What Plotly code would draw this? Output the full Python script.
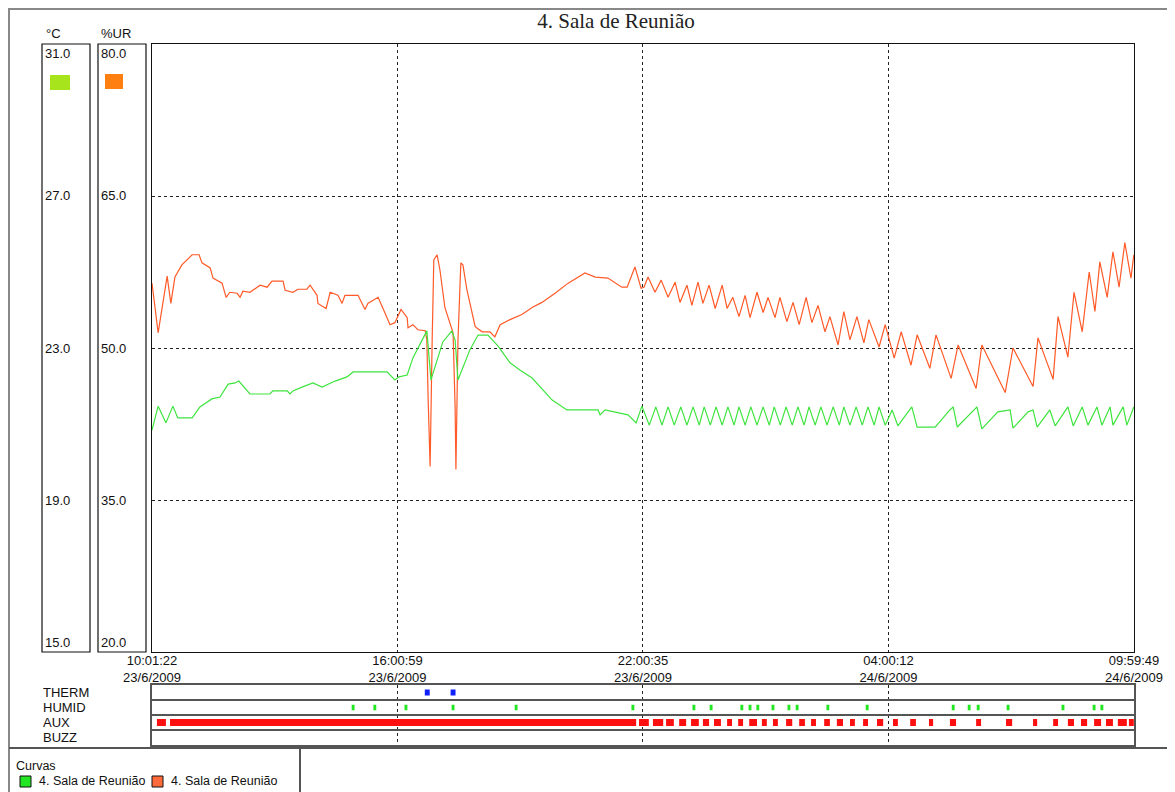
import plotly.graph_objects as go

W, H = 1175, 792
PAGE_OFFSET = 8  # the page body margin moves the figure by 8 px

# time axis in hours elapsed since 23/6/2009 10:01:22
tick_hours = [0.0, 5.9935, 11.9869, 17.9804, 23.9742]
tick_labels = ["10:01:22<br>23/6/2009", "16:00:59<br>23/6/2009", "22:00:35<br>23/6/2009",
               "04:00:12<br>24/6/2009", "09:59:49<br>24/6/2009"]
temp_ticks = [31.0, 27.0, 23.0, 19.0, 15.0]
hum_ticks = [80.0, 65.0, 50.0, 35.0, 20.0]

# humidity (%UR)
hum_t = [0.0, 0.15, 0.37, 0.46, 0.56, 0.73, 0.98, 1.15, 1.22, 1.42, 1.49, 1.71, 1.81, 1.90, 2.08,
         2.15, 2.22, 2.39, 2.64, 2.81, 2.93, 3.20, 3.25, 3.44, 3.56, 3.78, 3.86, 4.03, 4.05, 4.25,
         4.35, 4.54, 4.64, 4.71, 5.03, 5.20, 5.27, 5.52, 5.64, 5.81, 5.93, 6.08, 6.23, 6.25, 6.37,
         6.49, 6.67, 6.71, 6.74, 6.79, 6.84, 6.88, 6.96, 7.03, 7.15, 7.35, 7.40, 7.42, 7.47, 7.54,
         7.59, 7.69, 7.89, 8.06, 8.25, 8.37, 8.50, 8.74, 9.03, 9.28, 9.52, 9.84, 10.16, 10.57, 10.82,
         11.13, 11.47, 11.60, 11.79, 11.94, 12.01,
         12.11, 12.28, 12.43, 12.60, 12.77, 12.89, 13.06, 13.18, 13.33, 13.45, 13.60, 13.75, 13.92,
         14.04, 14.18, 14.33, 14.48, 14.60, 14.77, 14.92, 15.04, 15.21, 15.33, 15.50, 15.65, 15.80,
         15.97, 16.11, 16.26, 16.43, 16.55, 16.75, 16.89, 17.04, 17.21, 17.38, 17.50, 17.75, 17.90,
         18.12, 18.29, 18.53, 18.68, 18.99, 19.14, 19.51, 19.68, 20.12, 20.26, 20.83, 21.02, 21.51,
         21.63, 22.00, 22.12, 22.36, 22.51, 22.71, 22.88, 23.02, 23.14, 23.32, 23.46, 23.61, 23.75,
         23.90, 23.97]
hum_v = [56.4, 51.5, 57.1, 54.4, 57.0, 58.2, 59.2, 59.2, 58.4, 57.9, 56.9, 56.4, 55.0, 55.5, 55.4,
         55.0, 55.6, 55.5, 56.2, 56.0, 56.6, 56.6, 55.7, 55.5, 55.8, 55.8, 56.2, 55.2, 54.4, 53.9,
         55.5, 55.2, 54.4, 55.2, 55.2, 53.8, 54.4, 55.0, 53.9, 52.3, 52.5, 53.8, 53.0, 52.0, 52.3,
         51.8, 51.7, 50.8, 45.2, 38.3, 50.8, 58.7, 59.2, 57.7, 54.0, 51.5, 44.2, 38.0, 50.8, 58.4,
         58.2, 55.7, 52.1, 51.6, 51.6, 51.1, 52.3, 52.8, 53.3, 54.0, 54.5, 55.4, 56.4, 57.4, 57.0,
         56.9, 56.0, 56.0, 58.0, 55.9, 56.0,
         57.0, 55.5, 56.7, 55.0, 56.5, 54.5, 56.2, 54.2, 56.5, 54.4, 56.2, 53.9, 56.2,
         53.9, 55.0, 53.1, 55.2, 53.0, 55.5, 53.5, 55.0, 53.0, 55.0, 52.6, 54.5, 52.3,
         55.0, 52.5, 54.2, 51.6, 53.1, 50.3, 53.6, 50.8, 53.1, 50.5, 52.8, 50.1, 52.3,
         49.0, 51.6, 48.3, 51.3, 48.0, 51.3, 47.0, 50.3, 46.0, 50.3, 45.6, 50.0, 46.2,
         51.0, 46.9, 53.1, 49.1, 55.5, 51.6, 57.5, 53.6, 58.5, 55.0, 59.5, 56.0, 60.4,
         56.9, 59.2]

# temperature (°C)
temp_t = [0.0, 0.15, 0.34, 0.51, 0.63, 0.98, 1.17, 1.46, 1.66, 1.86, 2.03, 2.12, 2.39, 2.88, 2.95,
          3.30, 3.37, 3.44, 3.66, 3.93, 4.15, 4.35, 4.47, 4.76, 4.91, 5.74, 5.81, 5.93, 6.03, 6.10,
          6.23, 6.37, 6.71, 6.81, 7.10, 7.32, 7.40, 7.47, 7.76, 7.96, 8.20, 8.45, 8.74, 8.98, 9.28,
          9.77, 10.13, 10.89, 10.94, 11.06, 11.62, 11.82, 11.96,
          12.14, 12.30, 12.45, 12.60, 12.75, 12.91, 13.06, 13.21, 13.36, 13.48, 13.63, 13.77, 13.92,
          14.06, 14.21, 14.33, 14.48, 14.62, 14.77, 14.92, 15.07, 15.19, 15.34, 15.48, 15.63, 15.77,
          15.92, 16.04, 16.19, 16.33, 16.48, 16.63, 16.78, 16.89, 17.04, 17.19, 17.34, 17.48, 17.63,
          17.75, 17.90,
          18.07, 18.21, 18.55, 18.68, 19.12, 19.48, 19.56, 19.66, 20.02, 20.14, 20.26, 20.65, 20.95,
          21.02, 21.39, 21.51, 21.61, 21.92, 22.05, 22.36, 22.49, 22.71, 22.85, 23.07, 23.19, 23.39,
          23.46, 23.71, 23.80, 23.97]
temp_v = [20.84, 21.47, 21.03, 21.47, 21.16, 21.16, 21.45, 21.66, 21.71, 22.05, 22.08, 22.13, 21.79,
          21.79, 21.87, 21.87, 21.79, 21.87, 21.97, 22.08, 21.97, 22.08, 22.13, 22.24, 22.37, 22.37,
          22.29, 22.16, 22.24, 22.26, 22.29, 22.74, 23.45, 22.16, 23.16, 23.45, 23.21, 22.16, 22.95,
          23.34, 23.34, 23.05, 22.61, 22.42, 22.21, 21.63, 21.37, 21.37, 21.24, 21.37, 21.24, 21.03,
          21.47,
          20.97, 21.45, 20.97, 21.45, 20.97, 21.45, 20.97, 21.45, 20.97, 21.45, 20.97, 21.45, 20.97,
          21.45, 20.97, 21.45, 20.97, 21.45, 20.97, 21.45, 20.97, 21.45, 20.97, 21.45, 20.97, 21.45,
          20.97, 21.45, 20.97, 21.45, 20.97, 21.45, 20.97, 21.45, 20.97, 21.45, 20.97, 21.45, 20.97,
          21.45, 20.97,
          21.37, 20.95, 21.45, 20.92, 20.92, 21.37, 21.45, 20.92, 21.32, 21.45, 20.87, 21.32, 21.37,
          20.89, 21.32, 21.37, 20.92, 21.37, 20.95, 21.45, 20.95, 21.45, 20.97, 21.45, 20.97, 21.45,
          20.97, 21.45, 20.97, 21.45]

# event strip
strip_rows = ["THERM", "HUMID", "AUX", "BUZZ"]
therm_start = [6.66, 7.29]
therm_end = [6.78, 7.41]
humid_times = [4.91, 5.44, 6.20, 7.35, 8.89, 11.74, 13.23, 13.65, 14.40, 14.60, 14.79, 15.16,
               15.55, 15.75, 16.50, 17.46, 19.56, 19.95, 20.17, 20.90, 22.24, 23.00, 23.19]
aux_start = [0.12, 0.44, 11.89, 12.23, 12.55, 12.87, 13.16, 13.45, 13.72, 14.04, 14.31, 14.58,
             14.89, 15.16, 15.48, 15.80, 16.09, 16.41, 16.72, 17.04, 17.36, 17.70, 18.09, 18.51,
             18.97, 19.48, 20.12, 20.85, 21.51, 22.00, 22.36, 22.68, 23.00, 23.29, 23.58, 23.85]
aux_end = [0.34, 11.82, 12.13, 12.48, 12.74, 13.04, 13.35, 13.60, 13.89, 14.16, 14.43, 14.77,
           15.01, 15.28, 15.63, 15.94, 16.21, 16.55, 16.87, 17.16, 17.48, 17.85, 18.21, 18.65,
           19.07, 19.63, 20.24, 21.00, 21.61, 22.12, 22.51, 22.83, 23.17, 23.46, 23.80, 23.97]

series_name = "4. Sala de Reunião"
legend_title = "Curvas"


def px(x):
    return (x - PAGE_OFFSET) / W


def py(y):
    return 1 - (y - PAGE_OFFSET) / H


fig = go.Figure()

fig.add_trace(go.Scatter(x=hum_t, y=hum_v, mode="lines", line=dict(color="#ff5a28", width=1.2),
                         showlegend=False, xaxis="x", yaxis="y"))
fig.add_trace(go.Scatter(x=temp_t, y=temp_v, mode="lines", line=dict(color="#3ee43e", width=1.2),
                         showlegend=False, xaxis="x", yaxis="y3"))

# events
fig.add_trace(go.Bar(y=[0.5] * len(therm_start), base=therm_start,
                     x=[e - s for s, e in zip(therm_start, therm_end)], orientation="h",
                     width=0.4, marker=dict(color="#1020ff", line=dict(width=0)),
                     showlegend=False, xaxis="x2", yaxis="y2"))
fig.add_trace(go.Bar(y=[1.5] * len(humid_times), base=[t - 0.035 for t in humid_times],
                     x=[0.07] * len(humid_times), orientation="h",
                     width=0.37, marker=dict(color="#22e622", line=dict(width=0)),
                     showlegend=False, xaxis="x2", yaxis="y2"))
fig.add_trace(go.Bar(y=[2.5] * len(aux_start), base=aux_start,
                     x=[e - s for s, e in zip(aux_start, aux_end)], orientation="h",
                     width=0.47, marker=dict(color="#ff1010", line=dict(width=0)),
                     showlegend=False, xaxis="x2", yaxis="y2"))

grid_dash = "3px,3px"
dom_x = [px(152), px(1134)]
txt = 13

fig.update_layout(
    width=W, height=H,
    margin=dict(l=0, r=0, t=0, b=0, autoexpand=False),
    paper_bgcolor="white", plot_bgcolor="white",
    font=dict(family="Liberation Sans, Arial, sans-serif", size=txt, color="#111"),
    barmode="overlay",
    showlegend=False,
    title=dict(text=series_name, x=px(616), y=py(21), xanchor="center", yanchor="middle",
               font=dict(family="Liberation Serif, Times New Roman, serif", size=21, color="#222")),
    xaxis=dict(domain=dom_x, range=[0, tick_hours[-1]], tickvals=tick_hours, ticktext=tick_labels,
               showgrid=True, gridcolor="#222", griddash=grid_dash, gridwidth=1, zeroline=False,
               showline=True, mirror=True, linecolor="#111", linewidth=1, ticks="",
               tickfont=dict(size=txt), ticklabelstandoff=-4, anchor="y", automargin=False),
    yaxis=dict(domain=[py(652), py(44)], range=[20, 80], tickvals=[35, 50, 65],
               showticklabels=False, showgrid=True, gridcolor="#222", griddash=grid_dash,
               gridwidth=1, zeroline=False, showline=True, mirror=True, linecolor="#111",
               linewidth=1, ticks="", anchor="x", automargin=False),
    yaxis3=dict(overlaying="y", range=[15, 31], showticklabels=False, showgrid=False,
                zeroline=False, showline=False, ticks="", anchor="x", automargin=False),
    xaxis2=dict(domain=dom_x, range=[0, tick_hours[-1]], tickvals=tick_hours, showticklabels=False,
                showgrid=True, gridcolor="#222", griddash=grid_dash, gridwidth=1, zeroline=False,
                showline=True, mirror=True, linecolor="#555", linewidth=2, ticks="", anchor="y2",
                automargin=False),
    yaxis2=dict(domain=[py(745), py(685)], range=[4, 0], tickvals=[1, 2, 3], showticklabels=False,
                showgrid=True, gridcolor="#555", gridwidth=2, zeroline=False, showline=True,
                mirror=True, linecolor="#555", linewidth=2, ticks="", anchor="x2",
                automargin=False),
)

shapes = [
    # outer frame
    dict(type="rect", xref="paper", yref="paper", x0=px(9), x1=px(1170), y0=py(800), y1=py(9),
         line=dict(color="#888", width=2)),
    dict(type="line", xref="paper", yref="paper", x0=px(9), x1=px(1170), y0=py(748), y1=py(748),
         line=dict(color="#555", width=2)),
    dict(type="line", xref="paper", yref="paper", x0=px(300), x1=px(300), y0=py(748), y1=py(800),
         line=dict(color="#555", width=2)),
    # scale columns
    dict(type="rect", xref="paper", yref="paper", x0=px(42), x1=px(90), y0=py(652), y1=py(44),
         line=dict(color="#111", width=1.2)),
    dict(type="rect", xref="paper", yref="paper", x0=px(98), x1=px(146), y0=py(652), y1=py(44),
         line=dict(color="#111", width=1.2)),
    dict(type="rect", xref="paper", yref="paper", x0=px(50), x1=px(70), y0=py(90), y1=py(75),
         fillcolor="#a8e41c", line=dict(width=0)),
    dict(type="rect", xref="paper", yref="paper", x0=px(105), x1=px(123), y0=py(89), y1=py(74),
         fillcolor="#ff8010", line=dict(width=0)),
    # legend keys
    dict(type="rect", xref="paper", yref="paper", x0=px(20), x1=px(31), y0=py(787), y1=py(776),
         fillcolor="#22e622", line=dict(color="#111", width=1)),
    dict(type="rect", xref="paper", yref="paper", x0=px(152), x1=px(163), y0=py(787), y1=py(776),
         fillcolor="#ff6a3a", line=dict(color="#111", width=1)),
]

annotations = [
    dict(text="°C", x=px(44), y=py(33), xref="paper", yref="paper", xanchor="left",
         yanchor="middle", showarrow=False),
    dict(text="%UR", x=px(99), y=py(33), xref="paper", yref="paper", xanchor="left",
         yanchor="middle", showarrow=False),
    dict(text=legend_title, x=px(14), y=py(766), xref="paper", yref="paper", xanchor="left",
         yanchor="middle", showarrow=False, font=dict(size=12.5)),
    dict(text=series_name, x=px(37), y=py(781), xref="paper", yref="paper", xanchor="left",
         yanchor="middle", showarrow=False, font=dict(size=12.5)),
    dict(text=series_name, x=px(169), y=py(781), xref="paper", yref="paper", xanchor="left",
         yanchor="middle", showarrow=False, font=dict(size=12.5)),
]
for i, v in enumerate(temp_ticks):
    anchor = "top" if i == 0 else ("bottom" if i == len(temp_ticks) - 1 else "middle")
    annotations.append(dict(text=f"{v:.1f}", x=px(43), y=v, xref="paper", yref="y3",
                            xanchor="left", yanchor=anchor, showarrow=False))
for i, v in enumerate(hum_ticks):
    anchor = "top" if i == 0 else ("bottom" if i == len(hum_ticks) - 1 else "middle")
    annotations.append(dict(text=f"{v:.1f}", x=px(99), y=v, xref="paper", yref="y",
                            xanchor="left", yanchor=anchor, showarrow=False))
for i, name in enumerate(strip_rows):
    annotations.append(dict(text=name, x=px(41), y=i + 0.5, xref="paper", yref="y2",
                            xanchor="left", yanchor="middle", showarrow=False))

fig.update_layout(shapes=shapes, annotations=annotations)

fig.write_html("out.html")
